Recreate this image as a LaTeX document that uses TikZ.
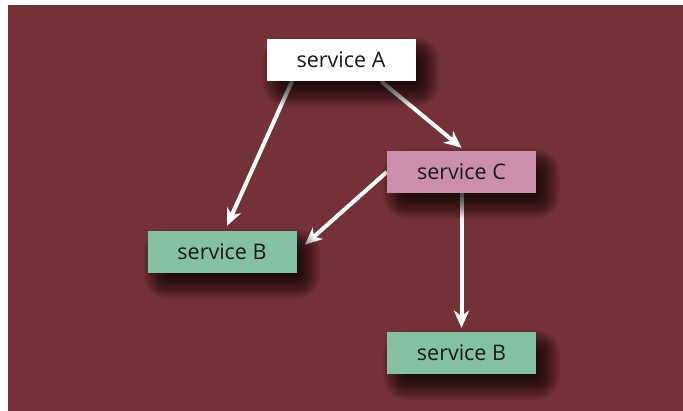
\documentclass[tikz,border=0pt]{standalone}
\usepackage{fontspec}
\setmainfont{Open Sans}
\usetikzlibrary{arrows.meta}
\pgfdeclarelayer{back}
\pgfdeclarelayer{links}
\pgfdeclarelayer{shade}
\pgfsetlayers{back,links,shade,main}
\definecolor{wine}{RGB}{116,49,56}
\definecolor{mint}{RGB}{132,193,163}
\definecolor{mauve}{RGB}{203,143,173}
\definecolor{ink}{RGB}{26,26,26}

\begin{document}
\begin{tikzpicture}[x=1pt, y=1pt,
    service/.style={rectangle, minimum width=149pt, minimum height=42pt, inner sep=0pt,
      text=ink, font=\fontsize{21.5}{25}\selectfont},
    link/.style={white, line width=4pt, -{Stealth[length=17pt, width=15pt, inset=5pt]}},
    haze/.style={black, opacity=0.045}]
    \useasboundingbox (0,0) rectangle (683,411);
    \begin{pgfonlayer}{back}
      \fill[wine] (8,0) rectangle (683,406);
    \end{pgfonlayer}
    \node[service, fill=white] (svcA) at (341, 351) {service A};
    \node[service, fill=mauve] (svcC) at (461.5, 239) {service C};
    \node[service, fill=mint] (svcB1) at (222, 159) {service B};
    \node[service, fill=mint] (svcB2) at (461.5, 58) {service B};
    % soft shadows, above the links
    \begin{pgfonlayer}{shade}
      \foreach \n in {svcA, svcC, svcB1, svcB2}
        \foreach \r in {0,...,24}
          \fill[haze, rounded corners=\r pt] ([shift={(20-\r, -2-\r)}]\n.south west)
            rectangle ([shift={(\r, -22+\r)}]\n.north east);
    \end{pgfonlayer}
    \begin{pgfonlayer}{links}
      \draw[link] ([xshift=-49pt]svcA.south) -- ([xshift=5pt, yshift=5pt]svcB1.north);
      \draw[link] ([xshift=40pt]svcA.south) -- ([yshift=3pt]svcC.north);
      \draw[link, shorten >=11pt] (svcC.west) -- (svcB1.east);
      \draw[link, shorten >=4pt] (svcC.south) -- (svcB2.north);
    \end{pgfonlayer}
\end{tikzpicture}
\end{document}
